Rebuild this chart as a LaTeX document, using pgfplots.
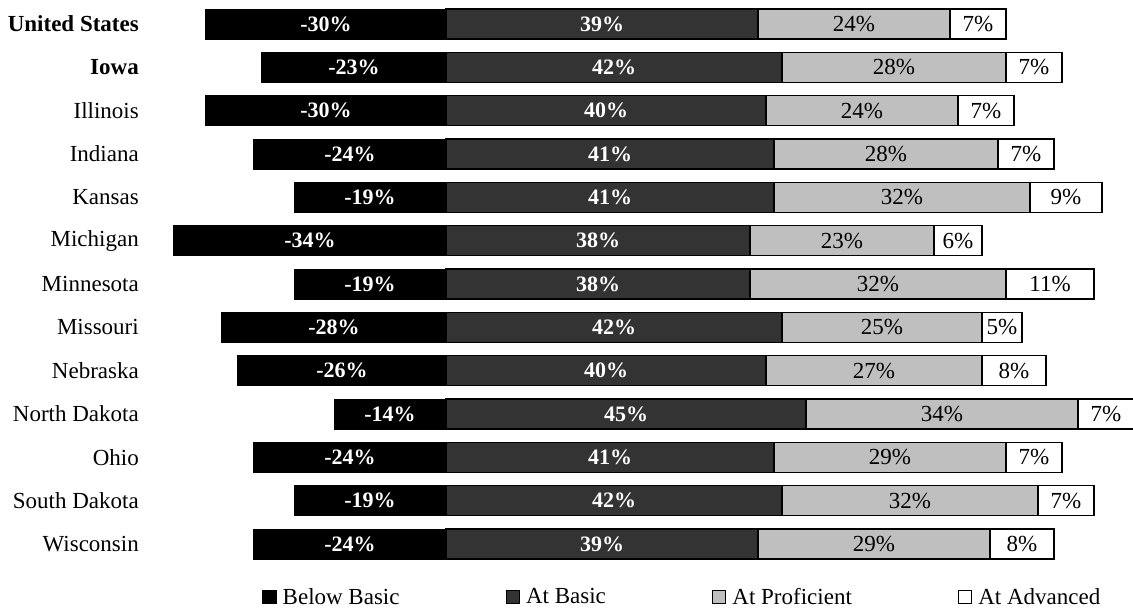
\documentclass[border=0pt]{standalone}
\usepackage{pgfplots}
\pgfplotsset{compat=1.18}
\usepackage{pgfplotstable}
\usepackage{fontspec}
\setmainfont{Liberation Serif}
\definecolor{basicgray}{HTML}{333333}
\definecolor{profgray}{HTML}{BFBFBF}

\pgfplotstableread{
row below basic prof adv
0 -30 39 24 7
1 -23 42 28 7
2 -30 40 24 7
3 -24 41 28 7
4 -19 41 32 9
5 -34 38 23 6
6 -19 38 32 11
7 -28 42 25 5
8 -26 40 27 8
9 -14 45 34 7
10 -24 41 29 7
11 -19 42 32 7
12 -24 39 29 8
}\data

\pgfplotsset{
  base/.style={
    width=992pt, height=563.33pt, scale only axis,
    xmin=-37, xmax=87, ymin=-0.5, ymax=12.5, y dir=reverse,
    hide x axis, y axis line style={draw=none}, major tick length=0pt,
    ytick={0,...,12},
    bar width=30pt,
    visualization depends on={rawx \as \rawx},
    point meta=explicit symbolic,
    nodes near coords={\pgfplotspointmeta\%},
    every node near coord/.append style={anchor=center, xshift={-4pt*\rawx}},
  },
}

\begin{document}
\begin{tikzpicture}[font=\fontsize{23}{27}\selectfont]
\begin{axis}[base, xbar, bar shift=0pt,
  yticklabels={\textbf{United States},\textbf{Iowa},Illinois,Indiana,Kansas,Michigan,Minnesota,Missouri,Nebraska,North Dakota,Ohio,South Dakota,Wisconsin},
  yticklabel style={anchor=east, inner sep=0pt, xshift=-11pt},
]
\addplot[fill=black, draw=black, line width=1pt,
  every node near coord/.append style={text=white, font=\fontsize{22}{26}\selectfont\bfseries}]
  table[x=below, y=row, meta=below] {\data};
\end{axis}
\begin{axis}[base, xbar stacked, yticklabels={},
  legend columns=4,
  legend style={draw=none, fill=none, inner sep=0pt, at={(axis description cs:0.1129,-0.0556)}, anchor=west,
    nodes={inner sep=0pt},
    /tikz/every odd column/.append style={column sep=6pt},
    /tikz/every even column/.append style={column sep=106pt}},
]
\addplot[fill=basicgray, draw=black, line width=1.5pt, forget plot,
  every node near coord/.append style={text=white, font=\fontsize{22}{26}\selectfont\bfseries}]
  table[x=basic, y=row, meta=basic] {\data};
\addplot[fill=profgray, draw=black, line width=1.5pt, forget plot,
  every node near coord/.append style={text=black}]
  table[x=prof, y=row, meta=prof] {\data};
\addplot[fill=white, draw=black, line width=1.5pt, forget plot,
  every node near coord/.append style={text=black}]
  table[x=adv, y=row, meta=adv] {\data};
\addlegendimage{legend image code/.code={\draw[fill=black,draw=black,line width=1.5pt] (0pt,-6.5pt) rectangle (13pt,6.5pt);}}
\addlegendimage{legend image code/.code={\draw[fill=basicgray,draw=black,line width=1.5pt] (0pt,-6.5pt) rectangle (13pt,6.5pt);}}
\addlegendimage{legend image code/.code={\draw[fill=profgray,draw=black,line width=1.5pt] (0pt,-6.5pt) rectangle (13pt,6.5pt);}}
\addlegendimage{legend image code/.code={\draw[fill=white,draw=black,line width=1.5pt] (0pt,-6.5pt) rectangle (13pt,6.5pt);}}
\legend{Below Basic,At Basic,At Proficient,At Advanced}
\end{axis}
\pgfresetboundingbox
\useasboundingbox (-150pt,-44.33pt) rectangle (983pt,565.67pt);
\end{tikzpicture}
\end{document}
